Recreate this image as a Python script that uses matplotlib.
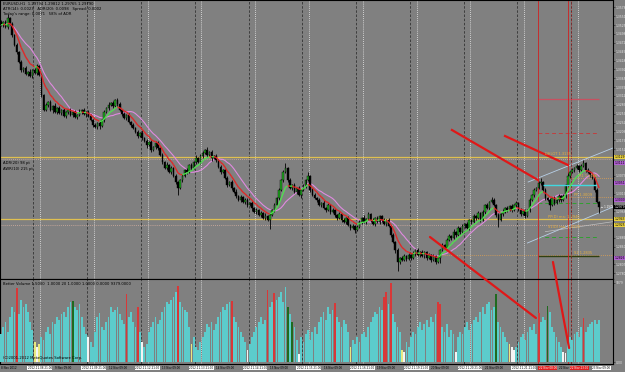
import numpy as np
import pandas as pd
import matplotlib
matplotlib.use("Agg")
import matplotlib.pyplot as plt
from matplotlib.collections import LineCollection
from matplotlib.patches import ConnectionPatch

# ---------------- data (EURUSD H1, prices in pips) ----------------
close_pips = [
    13525, 13534, 13519, 13546, 13528, 13495, 13465, 13444, 13414, 13390,
    13396, 13378, 13384, 13372, 13390, 13381, 13402, 13375, 13315, 13270,
    13285, 13294, 13270, 13282, 13264, 13276, 13261, 13270, 13252, 13264,
    13270, 13255, 13264, 13249, 13255, 13264, 13270, 13258, 13264, 13252,
    13240, 13225, 13219, 13231, 13222, 13240, 13264, 13276, 13285, 13291,
    13282, 13300, 13288, 13270, 13258, 13246, 13255, 13234, 13225, 13216,
    13204, 13192, 13201, 13186, 13177, 13165, 13174, 13150, 13159, 13171,
    13156, 13135, 13114, 13096, 13105, 13084, 13096, 13072, 13054, 13036,
    13060, 13072, 13090, 13084, 13105, 13096, 13114, 13126, 13114, 13132,
    13141, 13150, 13135, 13144, 13126, 13132, 13120, 13099, 13084, 13090,
    13066, 13045, 13054, 13036, 13024, 13012, 13000, 13009, 12994, 13000,
    12985, 12991, 12976, 12964, 12970, 12955, 12961, 12946, 12952, 12940,
    12955, 12970, 12985, 13006, 13030, 13060, 13084, 13096, 13060, 13036,
    13045, 13024, 13036, 13015, 13030, 13042, 13060, 13072, 13030, 13015,
    13006, 13000, 12985, 12991, 12976, 12970, 12985, 12964, 12970, 12955,
    12946, 12958, 12940, 12934, 12946, 12925, 12916, 12922, 12910, 12919,
    12934, 12946, 12934, 12943, 12958, 12940, 12928, 12946, 12934, 12952,
    12940, 12928, 12940, 12922, 12895, 12874, 12850, 12814, 12826, 12820,
    12832, 12823, 12835, 12826, 12838, 12850, 12835, 12844, 12832, 12844,
    12826, 12835, 12820, 12832, 12814, 12826, 12850, 12865, 12856, 12880,
    12892, 12886, 12904, 12895, 12916, 12904, 12922, 12928, 12916, 12940,
    12934, 12952, 12946, 12961, 12940, 12964, 12985, 12976, 12994, 13000,
    12985, 12955, 12940, 12958, 12964, 12976, 12970, 12982, 12970, 12985,
    12991, 12970, 12958, 12967, 12952, 12970, 13000, 13015, 13030, 13036,
    13051, 13054, 13030, 13006, 13000, 12985, 13006, 12991, 13000, 13012,
    13000, 13012, 13045, 13072, 13084, 13090, 13096, 13102, 13090, 13102,
    13111, 13090, 13084, 13075, 13066, 13030, 12994, 12979,
]
# wick lengths (units of 3 pips) above / below the body
wick_up = "".join([
    "2124121212", "1213122121", "2121312121", "1212131212", "2121212131",
    "2122121212", "1213121212", "2121312121", "1212121312", "2131212121",
    "1212131212", "2121212131", "2121212512", "1212121412", "2121312121",
    "1212121212", "2131212121", "1212121212", "2121312121", "1212121212",
    "2131212121", "1212121213", "2121312121", "2121212121", "2412121212",
    "1213121212", "31212121",
])
wick_dn = "".join([
    "1212121212", "2121212121", "1213121212", "2121212131", "1212312121",
    "2121212121", "1212131212", "2121212127", "1212121212", "2121312121",
    "1212121212", "2131212121", "9121212121", "2121312121", "1212121212",
    "2121212131", "1212121212", "2121213921", "1212121212", "2121215121",
    "1212121212", "2121212121", "1271212121", "2121212121", "1212151212",
    "2121212121", "12121216",
])
volume = [
    28, 35, 40, 30, 45, 55, 50, 74, 48, 62,
    55, 58, 50, 40, 32, 20, 15, 18, 25, 22,
    30, 35, 28, 40, 38, 45, 42, 48, 50, 45,
    55, 60, 61, 55, 52, 58, 45, 35, 28, 25,
    20, 15, 30, 45, 49, 35, 32, 40, 45, 55,
    50, 52, 55, 48, 42, 38, 68, 45, 50, 40,
    35, 55, 30, 20, 15, 18, 30, 35, 40, 45,
    38, 42, 50, 55, 60, 58, 62, 65, 70, 76,
    60, 55, 52, 50, 35, 18, 25, 15, 12, 20,
    25, 30, 38, 35, 40, 32, 38, 45, 50, 55,
    52, 58, 60, 61, 45, 40, 35, 30, 25, 20,
    12, 18, 25, 30, 35, 40, 45, 38, 42, 72,
    55, 60, 69, 62, 65, 70, 60, 75, 55, 48,
    40, 35, 22, 8, 25, 20, 28, 32, 22, 30,
    35, 28, 40, 45, 50, 42, 55, 48, 52, 59,
    45, 40, 35, 42, 38, 30, 15, 22, 18, 25,
    20, 28, 30, 25, 35, 40, 45, 50, 48, 55,
    52, 65, 70, 58, 79, 48, 40, 35, 30, 12,
    10, 20, 15, 25, 30, 28, 35, 40, 32, 38,
    42, 35, 45, 40, 48, 60, 58, 35, 30, 38,
    25, 32, 28, 10, 25, 30, 28, 35, 40, 32,
    38, 42, 45, 40, 50, 55, 48, 58, 60, 52,
    55, 68, 40, 35, 30, 25, 20, 18, 15, 12,
    15, 20, 25, 28, 22, 30, 35, 32, 38, 28,
    49, 40, 45, 42, 56, 50, 35, 30, 25, 20,
    15, 10, 9, 20, 25, 22, 28, 30, 25, 35,
    44, 30, 35, 38, 40, 42, 38, 42,
]
vol_red = [7, 56, 61, 79, 103, 119, 122, 149, 171, 172, 174, 195, 196, 240, 260]
vol_green = [32, 128, 130, 221, 244]
vol_white = [16, 39, 63, 110, 133, 180, 203, 228, 229, 251, 252]
vol_yellow = [15, 17, 85, 156, 179, 227]

day_starts = [15, 39, 63, 87, 111, 135, 159, 183, 207, 231, 255]
time_bars = [0, 12, 24, 36, 48, 60, 72, 84, 96, 108, 120, 132, 144, 156, 168,
             180, 192, 204, 216, 228, 249, 264]
time_labels = [
    "8 Nov 2012", "2012.11.08 21:00", "9 Nov 09:00", "2012.11.09 21:00",
    "12 Nov 09:00", "2012.11.12 21:00", "13 Nov 09:00", "2012.11.13 21:00",
    "14 Nov 09:00", "2012.11.14 21:00", "15 Nov 09:00", "2012.11.15 21:00",
    "16 Nov 09:00", "2012.11.16 21:00", "19 Nov 09:00", "2012.11.19 21:00",
    "20 Nov 09:00", "2012.11.20 21:00", "21 Nov 09:00", "2012.11.21 21:00",
    "22 Nov", "23 Nov 09:00",
]
red_time_bars = [240.0, 254.0]
red_time_labels = ["22 Nov 08:00", "22 Nov 23:00"]

# levels (pips)
yellow_levels = [13129, 12943]
dotted_levels = [13123, 12925]
right_boxes = [(13129, "#e8d040", "1.3129"), (12943, "#e8d040", "1.2943"),
               (12925, "#e8d040", "1.2925"), (13111, "#b060d0", "1.3111"),
               (13051, "#b060d0", "1.3051"), (13000, "#b060d0", "1.3000"),
               (12826, "#b060d0", "1.2826")]

# ---------------- derived ----------------
N = len(close_pips)
assert len(wick_up) == N and len(wick_dn) == N and len(volume) == N
c = np.array(close_pips) / 10000.0
o = np.concatenate([[c[0] + 0.0009], c[:-1]])
hi = np.maximum(o, c) + np.array([int(d) for d in wick_up]) * 0.0003
lo = np.minimum(o, c) - np.array([int(d) for d in wick_dn]) * 0.0003
idx = np.arange(N)

BG = "#808080"
W, H = 625, 372
fig = plt.figure(figsize=(W / 100, H / 100), dpi=100, facecolor=BG)
ax = fig.add_axes([0, (H - 279) / H, 613 / W, 279 / H], facecolor=BG)
axv = fig.add_axes([0, (H - 364) / H, 613 / W, 85 / H], facecolor=BG, sharex=ax)

XMIN, XMAX = -0.45, 273.2
ax.set_xlim(XMIN, XMAX)
ax.set_ylim(1.2763, 1.3600)
axv.set_ylim(-2, 83)

for a in (ax, axv):
    for s in a.spines.values():
        s.set_color("black")
        s.set_linewidth(0.8)
    a.tick_params(axis="x", bottom=False, labelbottom=False)
    a.yaxis.tick_right()
    a.tick_params(axis="y", labelsize=2.2, colors="#202020", length=1.2,
                  width=0.4, pad=0.5, labelcolor="#e4e4e4")
    for b in day_starts:
        a.axvline(b - 0.5, color="#333333", lw=0.6, ls=(0, (3, 2)), zorder=1)
        a.axvline(b + 2.5, color="#ececec", lw=0.6, ls=(0, (1, 1.5)), zorder=1)

box_prices = np.array([p for p, _, _ in right_boxes]) / 10000
yt = np.arange(1.2780, 1.3600, 0.00266)
yt = [v for v in yt if np.min(np.abs(box_prices - v)) > 0.0012 and abs(v - c[-1]) > 0.0012]
ax.set_yticks(yt)
ax.yaxis.set_major_formatter(matplotlib.ticker.FormatStrFormatter("%.4f"))
axv.set_yticks([0, 79])
axv.set_yticklabels(["0.00", "9379"])

# horizontal levels
for lv in yellow_levels:
    ax.axhline(lv / 10000, color="#e0c050", lw=0.9, zorder=2)
for lv in dotted_levels:
    ax.axhline(lv / 10000, color="#d8b0a0", lw=0.6, ls=(0, (1, 1.5)), zorder=2)
ax.hlines(12835 / 10000, 185, XMAX, color="#e0a050", lw=0.6, ls=(0, (1, 1.5)), zorder=2)
ax.hlines(13303 / 10000, 239.7, 267, color="#c85060", lw=0.9, zorder=2)
ax.hlines(13201 / 10000, 239.7, 267, color="#c04040", lw=0.7, ls=(0, (4, 3)), zorder=2)
ax.hlines(12991 / 10000, 239.7, 267, color="#30a030", lw=0.7, ls=(0, (4, 3)), zorder=2)
ax.hlines(12889 / 10000, 239.7, 267, color="#30a030", lw=0.7, ls=(0, (4, 3)), zorder=2)
ax.hlines(12832 / 10000, 239.7, 267, color="#304010", lw=1.0, zorder=2)
ax.hlines(13066 / 10000, 252, XMAX, color="#e0a050", lw=0.6, ls=(0, (1, 1.5)), zorder=2)
ax.hlines(13009 / 10000, 243, XMAX, color="#e0a050", lw=0.6, ls=(0, (1, 1.5)), zorder=2)
ax.hlines(13045 / 10000, 242, 266, color="#40d8e0", lw=1.0, zorder=6)

# channel lines
ax.plot([235.3, XMAX], [1.3054, 1.3156], color="#b8d0e8", lw=0.6, zorder=2)
ax.plot([235.0, XMAX], [1.2871, 1.2979], color="#b8d0e8", lw=0.6, zorder=2)
ax.plot([243.0, XMAX], [1.2905, 1.2935], color="#c0c0c0", lw=0.5, zorder=2)

# red vertical lines
for xv, ls in [(239.7, "-"), (253.1, "-"), (254.5, (0, (1, 1.5)))]:
    for a in (ax, axv):
        a.axvline(xv, color="#d02020", lw=0.6, ls=ls, zorder=2)

# candles
ax.vlines(idx, lo, hi, color="black", lw=0.6, zorder=4)
bull = c >= o
body_b = np.maximum(np.abs(c - o), 0.00008)
ax.bar(idx[bull], body_b[bull], bottom=np.minimum(o, c)[bull], width=0.7,
       color="#22b022", edgecolor="black", lw=0.3, zorder=5)
ax.bar(idx[~bull], body_b[~bull], bottom=np.minimum(o, c)[~bull], width=0.7,
       color="black", edgecolor="black", lw=0.3, zorder=5)

# moving averages
s = pd.Series(c)
sma = s.rolling(14, min_periods=1).mean().values
ax.plot(idx, sma, color="#e08ae0", lw=0.8, zorder=3)
ema = s.ewm(span=8, adjust=False).mean().values
segs = [[(i - 1, ema[i - 1]), (i, ema[i])] for i in range(1, N)]
cols = ["#50e050" if ema[i] > ema[i - 1] else "#e02828" for i in range(1, N)]
ax.add_collection(LineCollection(segs, colors=cols, linewidths=1.0, zorder=6))

# red trend lines
ax.plot([201.3, 239.7], [1.3210, 1.3060], color="#e01818", lw=1.6, zorder=7)
ax.plot([225.0, 253.1], [1.3192, 1.3105], color="#e01818", lw=1.6, zorder=7)
for (xa, ya, xb, yb) in [(191.5, 1.2889, 238.8, 44), (246.4, 1.2814, 253.6, 14)]:
    cp = ConnectionPatch(xyA=(xa, ya), coordsA=ax.transData, xyB=(xb, yb),
                         coordsB=axv.transData, color="#e01818", lw=1.6, zorder=20)
    fig.add_artist(cp)

# volume bars
vcol = ["#5ccccc"] * N
for i in vol_red:
    vcol[i] = "#d83838"
for i in vol_green:
    vcol[i] = "#1f6a1f"
for i in vol_white:
    vcol[i] = "#f4f4f4"
for i in vol_yellow:
    vcol[i] = "#e8e880"
axv.bar(idx, volume, width=0.8, color=vcol, zorder=4)

# price boxes on the right axis
ytr = ax.get_yaxis_transform()
for p, fc, t in right_boxes:
    ax.text(1.003, p / 10000, t, transform=ytr, fontsize=2.2, va="center", ha="left",
            color="black", bbox=dict(fc=fc, ec="none", pad=0.3), clip_on=False)
ax.text(1.003, c[-1], "%.4f" % c[-1], transform=ytr, fontsize=2.2, va="center",
        ha="left", color="white", bbox=dict(fc="black", ec="none", pad=0.3), clip_on=False)
ax.text(267.8, c[-1], "\u2190 1.2979", fontsize=1.9, va="center", ha="left",
        color="white", zorder=8)

# in-chart texts
tk = dict(fontsize=2.7, color="black", ha="left", va="top")
fig.text(3 / W, 1 - 2 / H, "EURUSD,H1  1.29794 1.29812 1.29765 1.29790", **tk)
fig.text(3 / W, 1 - 7 / H, "ATR(14): 0.0023   ADR(20): 0.0098   Spread: 0.0002", **tk)
fig.text(3 / W, 1 - 12 / H, "Today's range: 0.0071   58% of ADR", **tk)
fig.text(3 / W, 1 - 161 / H, "ADR(20) 98 pt", **tk)
fig.text(3 / W, 1 - 167 / H, "AWR(10) 215 pt", **tk)
fig.text(3 / W, 1 - 282 / H, "Better Volume 1.5000  1.0000 20 1.0000 1.0000 0.0000 9379.0000", **tk)
fig.text(3 / W, 1 - 356 / H, "(C)2001-2012 MetaQuotes Software Corp.", **tk)
to = dict(fontsize=2.6, color="#e8b040", ha="left", va="center", zorder=8)
ax.text(243, 1.3138, "DHLOT 1.3135", **to)
ax.text(244, 1.2950, "PP(D) ma: 1.2946", **to)
ax.text(244, 1.2918, "S1(D) ma: 1.2925", **to)
ax.text(258, 1.3072, "R1 1.3066", **to)
ax.text(256, 1.3016, "PP 1.3009", **to)
ax.text(256, 1.2842, "S2 1.2835", **to)

# time axis labels
def xfig(b):
    return (b - XMIN) / (XMAX - XMIN) * 613 / W

for k, (b, t) in enumerate(zip(time_bars, time_labels)):
    kw = dict(fontsize=2.0, color="black", ha="left", va="bottom")
    if k % 2:
        kw["bbox"] = dict(fc="white", ec="none", pad=0.3)
    fig.text(xfig(b), 2.0 / H, t, **kw)
for b, t in zip(red_time_bars, red_time_labels):
    fig.text(xfig(b), 2.0 / H, t, fontsize=2.0, color="white", ha="left", va="bottom",
             bbox=dict(fc="#e02020", ec="none", pad=0.3))

fig.savefig("out.png", dpi=100, facecolor=BG)
